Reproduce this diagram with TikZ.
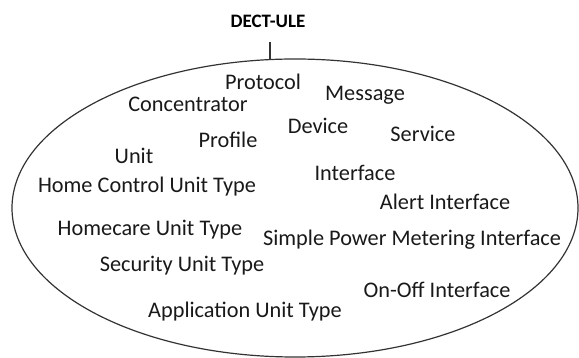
\documentclass[tikz,border=0pt]{standalone}
\usepackage{fontspec}
\setmainfont{Carlito}
\begin{document}
\begin{tikzpicture}[x=1pt,y=-1pt,
  lbl/.style={font=\fontsize{22.3}{25}\selectfont, text=black!90, inner sep=0pt, anchor=center},
  ttl/.style={font=\fontsize{19}{21}\selectfont\bfseries, inner sep=0pt},
  shell/.style={draw=black!80, line width=1.2pt}]
\useasboundingbox (0,0) rectangle (579,358);
\node[ttl] (title) at (268,21) {DECT-ULE};
\draw[shell] (295,208) ellipse [x radius=283, y radius=149];
\coordinate (top) at (270,60);
\coordinate (tick) at (270,42);
\draw[shell] (tick) -- (top);
\node[lbl] (protocol) at (263,82) {Protocol};
\node[lbl] (message) at (365,95) {Message};
\node[lbl] (conc) at (188,104) {Concentrator};
\node[lbl] (device) at (318,126) {Device};
\node[lbl] (service) at (423,134) {Service};
\node[lbl] (profile) at (228,140) {Profile};
\node[lbl] (unit) at (134,156) {Unit};
\node[lbl] (iface) at (355,173) {Interface};
\node[lbl] (hcut) at (147,187) {Home Control Unit Type};
\node[lbl] (alert) at (445,202) {Alert Interface};
\node[lbl] (homecare) at (150,230) {Homecare Unit Type};
\node[lbl] (spm) at (412,240) {Simple Power Metering Interface};
\node[lbl] (security) at (182,266) {Security Unit Type};
\node[lbl] (onoff) at (437,290) {On-Off Interface};
\node[lbl] (app) at (245,312) {Application Unit Type};
\end{tikzpicture}
\end{document}
